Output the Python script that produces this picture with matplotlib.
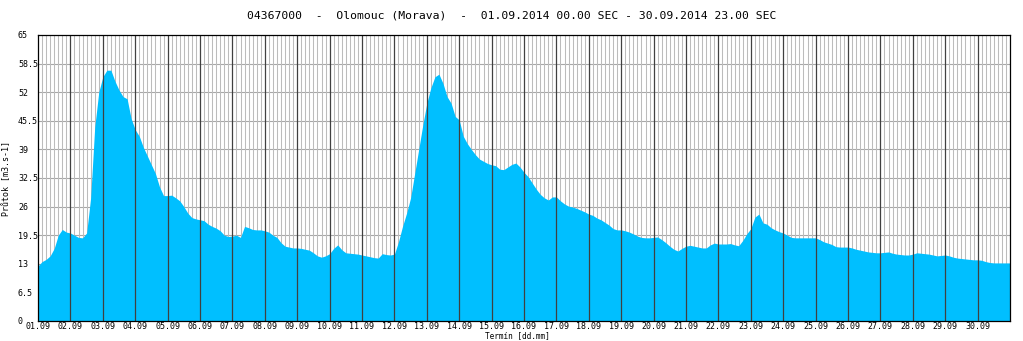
import matplotlib
matplotlib.use("Agg")
import matplotlib.pyplot as plt
import numpy as np

# ---- data (3-hourly discharge, m3/s) ----
title = "04367000  -  Olomouc (Morava)  -  01.09.2014 00.00 SEC - 30.09.2014 23.00 SEC"
ylabel = "Průtok [m3.s-1]"
xlabel = "Termín [dd.mm]"
day_labels = ["%02d.09" % d for d in range(1, 31)]
y_ticks = [0, 6.5, 13, 19.5, 26, 32.5, 39, 45.5, 52, 58.5, 65]
y_ticklabels = ["0", "6.5", "13", "19.5", "26", "32.5", "39", "45.5", "52", "58.5", "65"]

d01 = [12.5, 13.5, 14, 14.8, 16.5, 19.5, 20.8, 20.2]
d02 = [20, 19.5, 19, 18.9, 20, 28, 44, 52]
d03 = [55.5, 57, 57, 54.5, 52.5, 51, 50.5, 46]
d04 = [43.5, 42, 39.5, 37.5, 35.5, 33.5, 30.5, 28.5]
d05 = [28.5, 28.6, 28, 27.3, 26, 24.5, 23.5, 23.2]
d06 = [23, 22.8, 22, 21.5, 21.1, 20.5, 19.5, 19.2]
d07 = [19.3, 19.5, 19, 21.5, 21.2, 20.8, 20.7, 20.7]
d08 = [20.5, 20.2, 19.5, 19, 17.8, 17, 16.8, 16.6]
d09 = [16.6, 16.5, 16.3, 16.1, 15.5, 14.8, 14.5, 14.8]
d10 = [15.3, 16.5, 17.3, 16.2, 15.5, 15.4, 15.3, 15.2]
d11 = [15, 14.8, 14.6, 14.4, 14.3, 15.3, 15.1, 15]
d12 = [15.2, 18, 21.5, 24.5, 28, 33.5, 39, 44.5]
d13 = [49.5, 53, 55.5, 56.1, 54, 51, 49.5, 46.5]
d14 = [45.7, 42, 40.3, 39, 37.8, 36.8, 36.3, 35.8]
d15 = [35.5, 35.3, 34.5, 34.4, 35, 35.6, 35.9, 35]
d16 = [33.8, 32.8, 31.4, 30, 28.8, 28, 27.5, 28.2]
d17 = [28.2, 27.3, 26.6, 26.1, 25.9, 25.6, 25.2, 24.8]
d18 = [24.3, 24, 23.4, 23, 22.4, 21.8, 21, 20.7]
d19 = [20.7, 20.5, 20.2, 19.8, 19.3, 19, 18.9, 18.9]
d20 = [19, 19.1, 18.5, 17.8, 17, 16.3, 15.9, 16.5]
d21 = [17, 17.2, 17, 16.8, 16.6, 16.6, 17.3, 17.7]
d22 = [17.5, 17.5, 17.5, 17.6, 17.3, 17.1, 18.3, 19.8]
d23 = [21, 23.6, 24.3, 22.3, 22, 21.2, 20.7, 20.3]
d24 = [20, 19.5, 19, 18.9, 18.9, 18.9, 18.9, 18.9]
d25 = [18.9, 18.5, 18, 17.7, 17.4, 16.9, 16.8, 16.8]
d26 = [16.8, 16.6, 16.3, 16.1, 15.9, 15.7, 15.6, 15.5]
d27 = [15.5, 15.6, 15.7, 15.4, 15.2, 15.1, 15, 15]
d28 = [15.2, 15.5, 15.4, 15.3, 15.2, 15, 14.8, 14.9]
d29 = [15, 14.8, 14.5, 14.3, 14.2, 14.1, 14, 13.9]
d30 = [13.9, 13.8, 13.5, 13.3, 13.2, 13.2, 13.2, 13.2]

flow = np.array(d01 + d02 + d03 + d04 + d05 + d06 + d07 + d08 + d09 + d10 +
                d11 + d12 + d13 + d14 + d15 + d16 + d17 + d18 + d19 + d20 +
                d21 + d22 + d23 + d24 + d25 + d26 + d27 + d28 + d29 + d30)
hours = np.arange(len(flow)) * 3.0

# ---- figure ----
W, H = 1023, 341
fig = plt.figure(figsize=(W / 100, H / 100), dpi=100)
L, R, T, B = 38, 1010, 35, 321
ax = fig.add_axes([L / W, (H - B) / H, (R - L) / W, (B - T) / H])
mono = "DejaVu Sans Mono"

ax.set_xlim(0, 720)
ax.set_ylim(0, 65)

# background grid (below fill)
for yv in y_ticks[1:-1]:
    ax.axhline(yv, color="#a8a8a8", lw=0.8, zorder=1)
for h in np.arange(3, 720, 3):
    if h % 24 != 0:
        ax.axvline(h, color="#bcbcbc", lw=0.75, zorder=1)

xf = np.append(hours, 720)
yf = np.append(flow, flow[-1])
ax.fill_between(xf, 0, yf, color="#00BFFF", lw=0, zorder=2)

# day lines above fill
for h in range(24, 720, 24):
    ax.axvline(h, color="#404040", lw=0.9, zorder=3)

ax.set_xticks(np.arange(0, 720, 24))
ax.set_xticklabels(day_labels, fontsize=6, family=mono)
ax.set_yticks(y_ticks)
ax.set_yticklabels(y_ticklabels, fontsize=6, family=mono, ha="left")
ax.tick_params(axis="both", length=0)
ax.tick_params(axis="x", pad=0.8)
ax.tick_params(axis="y", pad=14.4)

for s in ax.spines.values():
    s.set_color("black")
    s.set_linewidth(0.9)
    s.set_zorder(4)

fig.text(512 / W, 1 - 15 / H, title, ha="center", va="center", fontsize=8.2, family=mono)
fig.text(517 / W, 1 - 340.5 / H, xlabel, ha="center", va="bottom", fontsize=5.6, family=mono)
fig.text(7 / W, 1 - 178 / H, ylabel, ha="center", va="center", rotation=90, fontsize=6, family=mono)

fig.savefig("out.png", dpi=100)
